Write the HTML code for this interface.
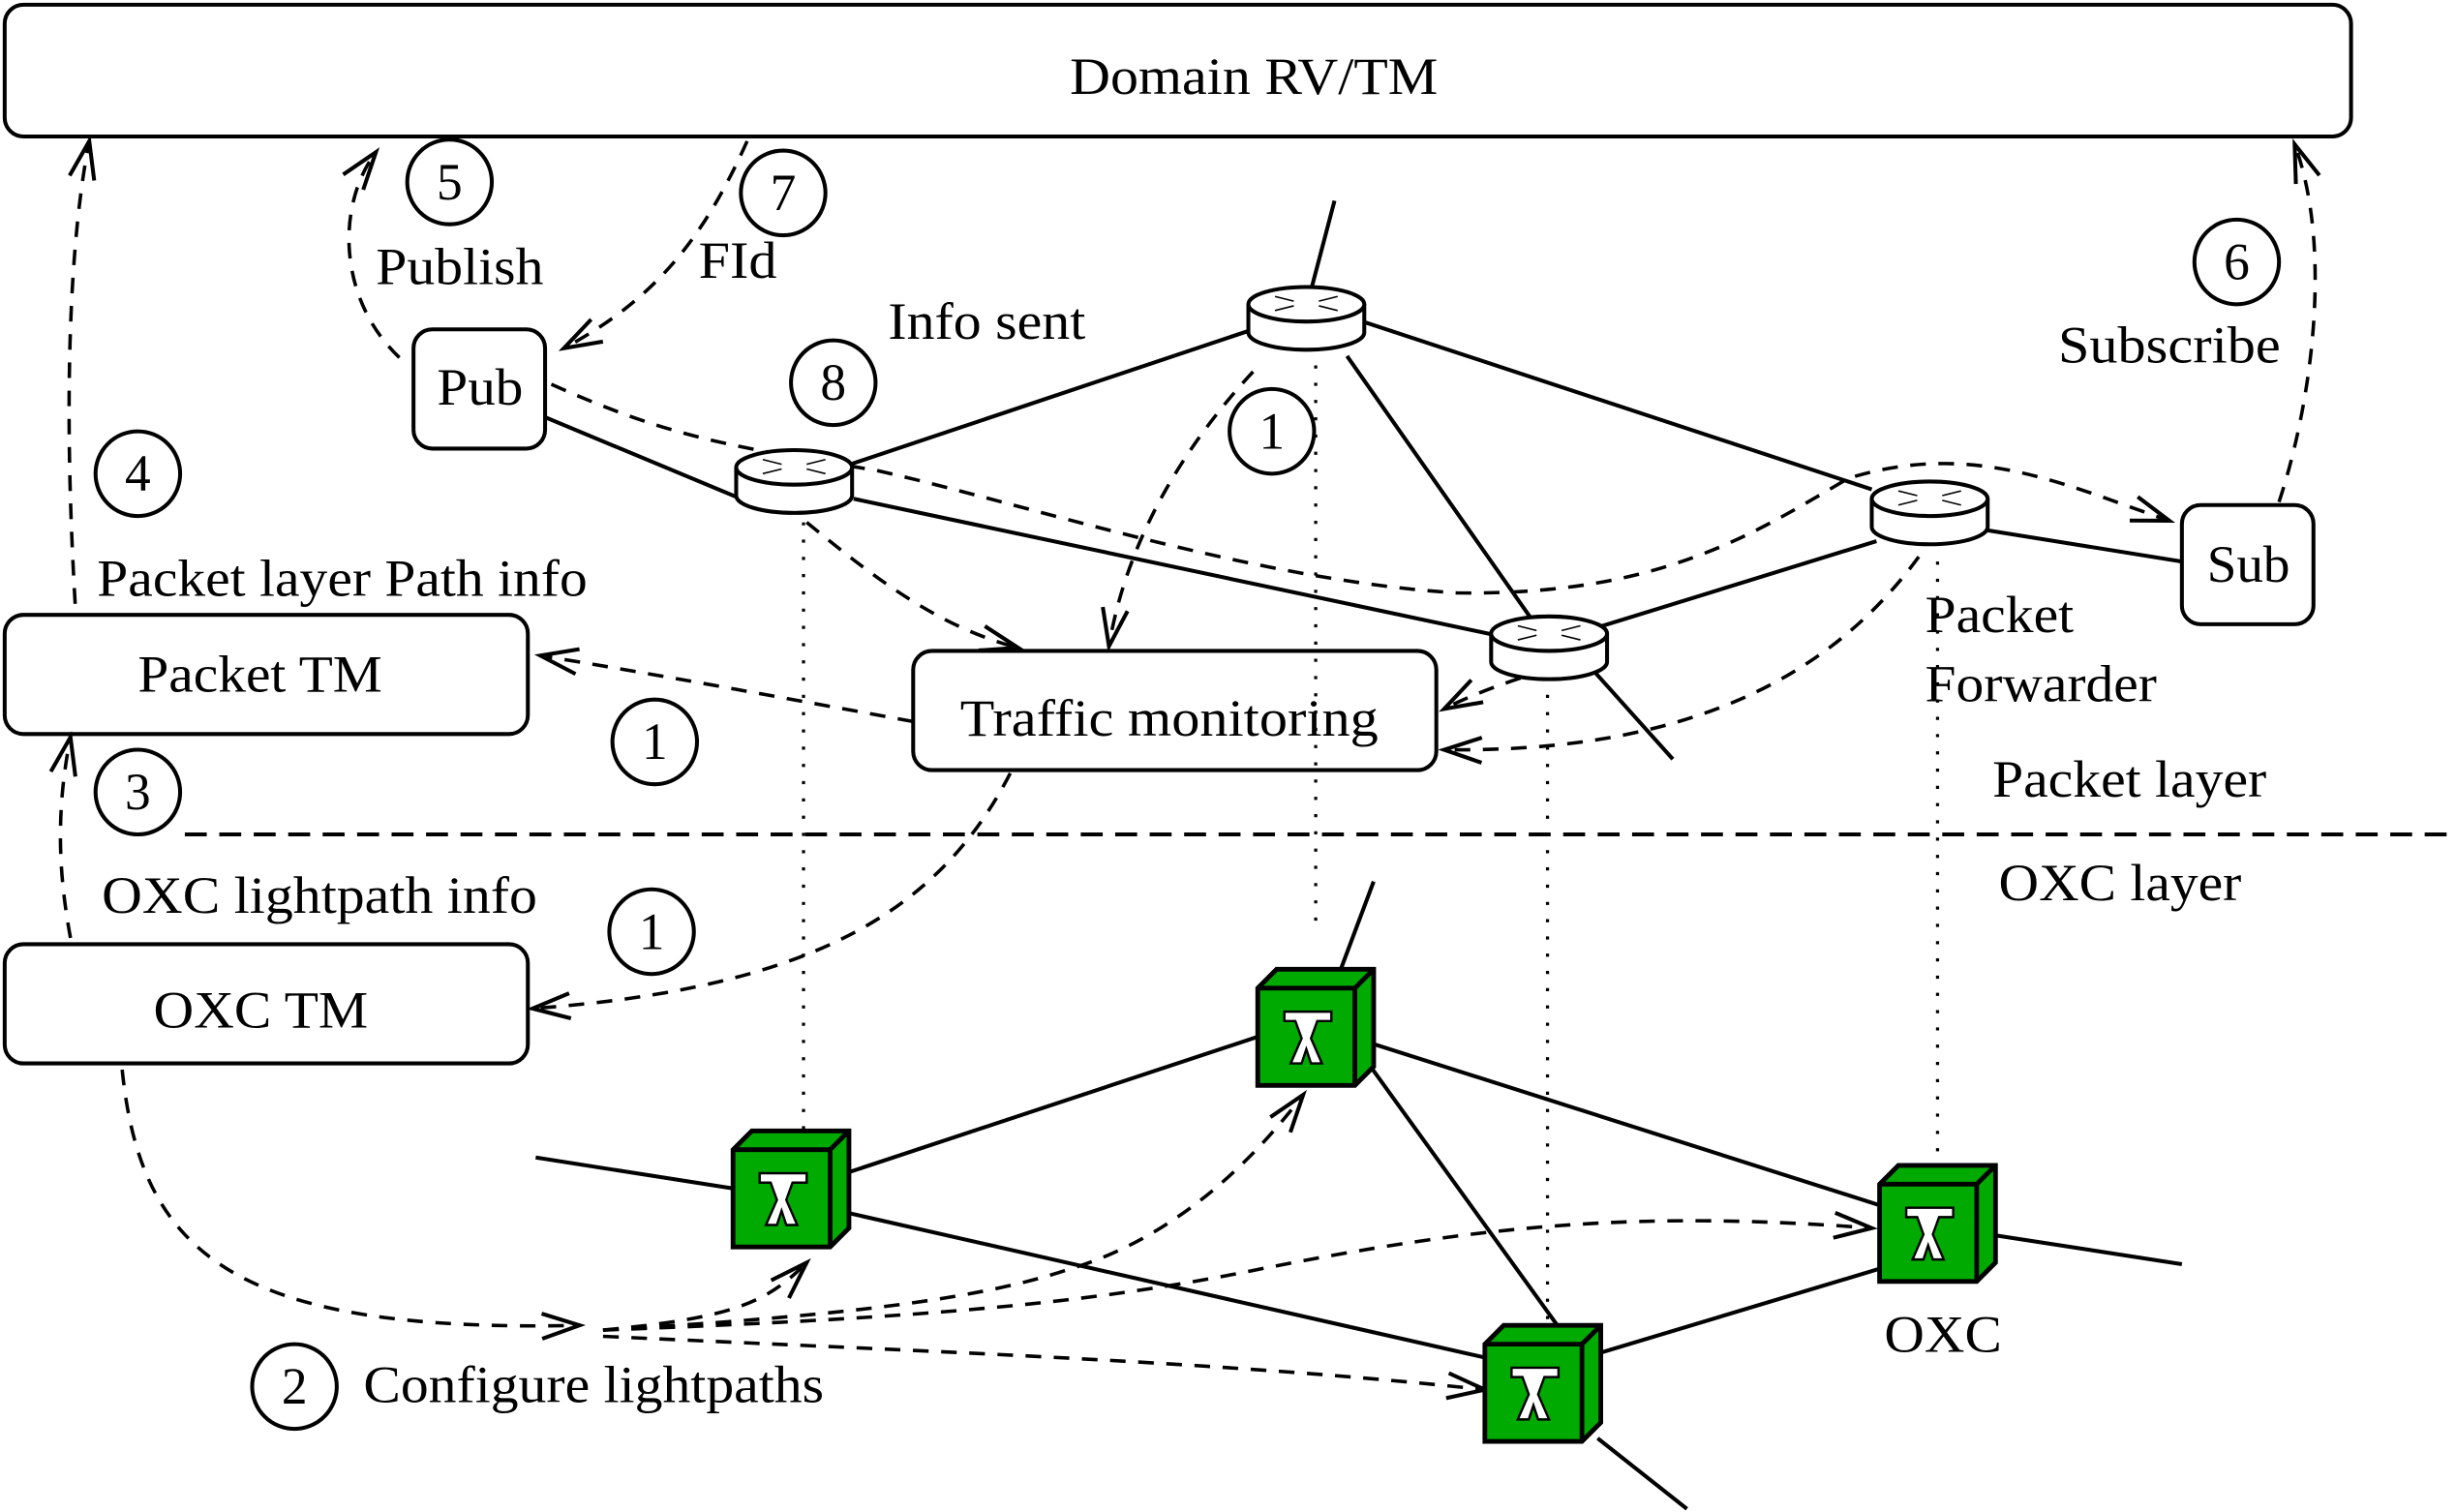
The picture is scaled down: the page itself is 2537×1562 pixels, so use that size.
<!DOCTYPE html>
<html><head><meta charset="utf-8"><style>html,body{margin:0;padding:0;background:#fff}svg{display:block}</style></head><body>
<svg width="2537" height="1562" viewBox="0 0 1568 964" preserveAspectRatio="none" xmlns="http://www.w3.org/2000/svg" font-family="Liberation Serif, serif" font-size="33">
<defs>
<marker id="a" markerWidth="30" markerHeight="20" refX="26" refY="10" orient="auto" markerUnits="userSpaceOnUse"><path d="M2,2 L26,10 L2,18" fill="none" stroke="#000" stroke-width="2.5"/></marker>
<g id="rt">
<path d="M-37,0 L-37,18 A37,11 0 0 0 37,18 L37,0" fill="#fff" stroke="#000" stroke-width="2.5"/>
<ellipse cx="0" cy="0" rx="37" ry="11" fill="#fff" stroke="#000" stroke-width="2.5"/>
<g stroke="#000" stroke-width="1" fill="none"><path d="M-20,-5 L-8,-2 M8,-2 L20,-5 M-20,4 L-8,1 M8,1 L20,4"/></g>
</g>
<g id="ox">
<path d="M0,12 L12,0 L74,0 L74,62 L62,74 L0,74 Z" fill="#00aa00" stroke="#000" stroke-width="3"/>
<path d="M0,12 L62,12 L74,0 M62,12 L62,74" fill="none" stroke="#000" stroke-width="3"/>
<path d="M17,27 L47,27 L47,33 L38,33 L34,44 L41,60 L34,60 L31,51 L28,60 L21,60 L28,44 L24,33 L17,33 Z" fill="#fff" stroke="#000" stroke-width="1.5"/>
</g>
</defs>
<g fill="none" stroke="#000" stroke-width="2.5">
<rect x="3" y="3" width="1498" height="84" rx="12"/>
<rect x="3" y="392" width="334" height="76" rx="12"/>
<rect x="3" y="602" width="334" height="76" rx="12"/>
<rect x="583" y="415" width="334" height="76" rx="12"/>
<rect x="264" y="210" width="84" height="76" rx="12"/>
<rect x="1393" y="322" width="84" height="76" rx="12"/>
<circle cx="287" cy="116" r="27"/><circle cx="500" cy="123" r="27"/><circle cx="532" cy="244" r="27"/>
<circle cx="812" cy="275" r="27"/><circle cx="1428" cy="167" r="27"/><circle cx="88" cy="302" r="27"/>
<circle cx="88" cy="505" r="27"/><circle cx="418" cy="473" r="27"/><circle cx="416" cy="594" r="27"/>
<circle cx="188" cy="884" r="27"/>
<path d="M348,266 L473,318 M540,297 L800,210 M545,318 L955,405 M870,205 L1195,312 M860,227 L978,395 M1020,400 L1198,345 M1268,338 L1393,358 M852,128 L837,185 M1015,425 L1068,484"/>
<path d="M342,738 L470,758 M540,748 L806,660 M540,773 L950,866 M875,665 L1205,770 M875,680 L995,846 M1020,863 L1203,808 M1270,787 L1393,806 M877,562 L856,618 M1020,917 L1077,962"/>
</g>
<g stroke="#000" stroke-width="2" stroke-dasharray="2,9" fill="none">
<path d="M513,333 L513,720 M840,222 L840,590 M988,432 L988,845 M1237,358 L1237,735"/>
</g>
<line x1="118" y1="532" x2="1568" y2="532" stroke="#000" stroke-width="2.5" stroke-dasharray="14,8"/>
<g fill="none" stroke="#000" stroke-width="2.2" stroke-dasharray="10,8" marker-end="url(#a)">
<path d="M48,385 C40,250 45,150 57,90"/>
<path d="M255,228 C215,190 215,130 240,97"/>
<path d="M477,90 C450,150 420,190 360,222"/>
<path d="M1455,320 C1475,260 1490,160 1465,92"/>
<path d="M45,598 C38,560 35,520 45,470"/>
<path d="M583,460 C500,445 420,430 345,418"/>
<path d="M645,493 C600,580 520,630 340,643"/>
<path d="M800,237 C760,280 720,340 708,412"/>
<path d="M515,333 C560,370 600,400 650,413"/>
<path d="M988,427 C960,435 935,445 922,452"/>
<path d="M1225,355 C1170,430 1080,480 922,478"/>
<path d="M352,245 C430,280 470,285 560,300 C650,320 800,370 930,378 C1060,380 1120,340 1180,305 C1260,280 1320,310 1385,332"/>
<path d="M78,682 C90,800 150,850 370,845"/>
<path d="M385,848 C470,840 490,830 515,805"/>
<path d="M385,848 C520,840 620,830 680,810 C750,790 800,740 832,698"/>
<path d="M385,848 C600,840 700,830 800,810 C950,780 1050,772 1195,783"/>
<path d="M385,852 C600,862 780,868 948,886"/>
</g>
<use href="#rt" x="834" y="194"/>
<use href="#rt" x="507" y="298"/>
<use href="#rt" x="989" y="404"/>
<use href="#rt" x="1232" y="318"/>
<use href="#ox" x="468" y="721"/>
<use href="#ox" x="803" y="618"/>
<use href="#ox" x="948" y="845"/>
<use href="#ox" x="1200" y="743"/>
<g fill="#000" lengthAdjust="spacingAndGlyphs">
<text x="683" y="60" textLength="235" lengthAdjust="spacingAndGlyphs">Domain RV/TM</text>
<text x="88" y="441" textLength="156" lengthAdjust="spacingAndGlyphs">Packet TM</text>
<text x="98" y="655" textLength="137" lengthAdjust="spacingAndGlyphs">OXC TM</text>
<text x="613" y="469" textLength="267" lengthAdjust="spacingAndGlyphs">Traffic monitoring</text>
<text x="279" y="258" textLength="55" lengthAdjust="spacingAndGlyphs">Pub</text>
<text x="1409" y="371" textLength="53" lengthAdjust="spacingAndGlyphs">Sub</text>
<text x="287" y="127" text-anchor="middle">5</text><text x="500" y="134" text-anchor="middle">7</text>
<text x="532" y="255" text-anchor="middle">8</text><text x="812" y="286" text-anchor="middle">1</text>
<text x="1428" y="178" text-anchor="middle">6</text><text x="88" y="313" text-anchor="middle">4</text>
<text x="88" y="516" text-anchor="middle">3</text><text x="418" y="484" text-anchor="middle">1</text>
<text x="416" y="605" text-anchor="middle">1</text><text x="188" y="895" text-anchor="middle">2</text>
<text x="240" y="181" textLength="107" lengthAdjust="spacingAndGlyphs">Publish</text>
<text x="446" y="177" textLength="50" lengthAdjust="spacingAndGlyphs">FId</text>
<text x="567" y="216" textLength="126" lengthAdjust="spacingAndGlyphs">Info sent</text>
<text x="1314" y="231" textLength="142" lengthAdjust="spacingAndGlyphs">Subscribe</text>
<text x="62" y="380" textLength="313" lengthAdjust="spacingAndGlyphs">Packet layer Path info</text>
<text x="65" y="582" textLength="278" lengthAdjust="spacingAndGlyphs">OXC lightpath info</text>
<text x="1229" y="403" textLength="95" lengthAdjust="spacingAndGlyphs">Packet</text>
<text x="1229" y="447" textLength="148" lengthAdjust="spacingAndGlyphs">Forwarder</text>
<text x="1272" y="508" textLength="175" lengthAdjust="spacingAndGlyphs">Packet layer</text>
<text x="1276" y="574" textLength="155" lengthAdjust="spacingAndGlyphs">OXC layer</text>
<text x="1203" y="862" textLength="75" lengthAdjust="spacingAndGlyphs">OXC</text>
<text x="232" y="894" textLength="294" lengthAdjust="spacingAndGlyphs">Configure lightpaths</text>
</g>
</svg>
</body></html>
